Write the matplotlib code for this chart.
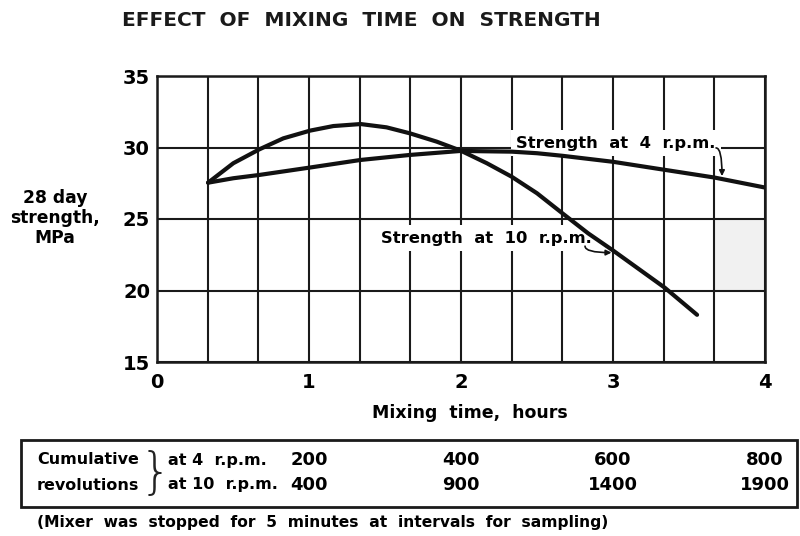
import numpy as np
import matplotlib
matplotlib.use("Agg")
import matplotlib.pyplot as plt
from matplotlib.patches import Rectangle
from matplotlib.ticker import MultipleLocator
from matplotlib.transforms import blended_transform_factory

plt.rcParams.update({"font.family": ["DejaVu Sans"], "font.weight": "bold"})

# strength curves (hours, MPa)
t_4rpm = [0.336, 0.502, 0.673, 1.007, 1.34, 1.664, 1.998, 2.26, 2.333, 2.5, 2.667,
          3.0, 3.333, 3.667, 4.0]
s_4rpm = [27.54, 27.85, 28.08, 28.6, 29.13, 29.48, 29.76, 29.72, 29.71, 29.6, 29.42,
          29.0, 28.45, 27.9, 27.2]
t_10rpm = [0.336, 0.502, 0.673, 0.831, 1.007, 1.16, 1.34, 1.51, 1.664, 1.84, 1.998,
           2.17, 2.333, 2.5, 2.667, 2.836, 3.0, 3.34, 3.553]
s_10rpm = [27.54, 28.9, 29.87, 30.64, 31.18, 31.5, 31.64, 31.41, 30.99, 30.41, 29.78,
           28.9, 27.96, 26.8, 25.4, 24.0, 22.8, 20.2, 18.3]

# cumulative revolutions table
rev_hours = [1, 2, 3, 4]
rev_4rpm = ["200", "400", "600", "800"]
rev_10rpm = ["400", "900", "1400", "1900"]

fig = plt.figure(figsize=(8, 5.36), dpi=100)
ax = fig.add_axes([157 / 800, 1 - 362 / 536, 608 / 800, 286 / 536])

ax.set_xlim(0, 4)
ax.set_ylim(15, 35)
ax.set_xticks([0, 1, 2, 3, 4])
ax.xaxis.set_minor_locator(MultipleLocator(1 / 3))
ax.set_yticks([15, 20, 25, 30, 35])
ax.tick_params(which="both", length=0, labelsize=14)
ax.tick_params(axis="x", pad=8)
ax.tick_params(axis="y", pad=5)
ax.set_axisbelow(True)
ax.grid(which="both", color="#1a1a1a", lw=1.5)
for sp in ax.spines.values():
    sp.set_linewidth(1.8)
    sp.set_color("#1a1a1a")

ax.add_patch(Rectangle((11 / 3, 20), 1 / 3, 5, color="#f1f1f1", zorder=0.2, lw=0))

for t, s in [(t_4rpm, s_4rpm), (t_10rpm, s_10rpm)]:
    ax.plot(t, s, color="#111111", lw=3, zorder=4,
            solid_capstyle="round", solid_joinstyle="round")

box = dict(facecolor="white", edgecolor="none", pad=4)
ax.text(3.02, 30.3, "Strength  at  4  r.p.m.", ha="center", va="center",
        fontsize=11.8, bbox=box, zorder=3)
ax.text(2.165, 23.67, "Strength  at  10  r.p.m.", ha="center", va="center",
        fontsize=11.8, bbox=box, zorder=3)
ax.annotate("", xy=(3.717, 28.0), xytext=(3.678, 29.97),
            arrowprops=dict(arrowstyle="-|>", color="#111111", lw=1.2, mutation_scale=8,
                            shrinkA=0, shrinkB=0,
                            connectionstyle="angle3,angleA=0,angleB=90"), zorder=5)
ax.annotate("", xy=(2.99, 22.65), xytext=(2.816, 23.1),
            arrowprops=dict(arrowstyle="-|>", color="#111111", lw=1.2, mutation_scale=8,
                            shrinkA=0, shrinkB=0,
                            connectionstyle="angle3,angleA=-90,angleB=0"), zorder=5)

fig.text(361 / 800, 1 - 20 / 536, "EFFECT  OF  MIXING  TIME  ON  STRENGTH",
         ha="center", va="center", fontsize=14.5, color="#1a1a1a")
fig.text(55 / 800, 1 - 218 / 536, "28 day\nstrength,\nMPa", ha="center", va="center",
         fontsize=12.3, linespacing=1.15)
fig.text(470 / 800, 1 - 413 / 536, "Mixing  time,  hours", ha="center", va="center",
         fontsize=12.5)

# revolutions table under the axes
fig.patches.append(Rectangle((21 / 800, 1 - 507 / 536), 776 / 800, 67 / 536,
                             transform=fig.transFigure, fill=False, lw=2, color="#1a1a1a"))
fig.text(37 / 800, 1 - 460 / 536, "Cumulative", va="center", fontsize=11.5)
fig.text(37 / 800, 1 - 485 / 536, "revolutions", va="center", fontsize=11.5)
fig.text(155 / 800, 1 - 474 / 536, "}", va="center", ha="center", fontsize=36,
         fontweight="light", color="#222222")
fig.text(168 / 800, 1 - 460 / 536, "at 4  r.p.m.", va="center", fontsize=11.5)
fig.text(168 / 800, 1 - 485 / 536, "at 10  r.p.m.", va="center", fontsize=11.5)
tr = blended_transform_factory(ax.transData, fig.transFigure)
for h, a, b in zip(rev_hours, rev_4rpm, rev_10rpm):
    fig.text(h, 1 - 460 / 536, a, transform=tr, ha="center", va="center", fontsize=13)
    fig.text(h, 1 - 485 / 536, b, transform=tr, ha="center", va="center", fontsize=13)

fig.text(37 / 800, 1 - 522 / 536,
         "(Mixer  was  stopped  for  5  minutes  at  intervals  for  sampling)",
         va="center", fontsize=11.2)

fig.savefig("out.png", dpi=100)
